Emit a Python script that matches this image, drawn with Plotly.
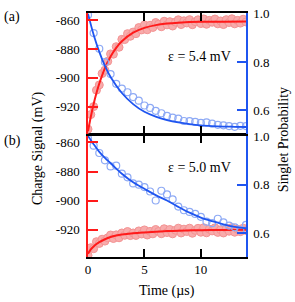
import plotly.graph_objects as go

# ---------------- data ----------------
# dense charge-signal samples (µs)
t_dense = [0, 0.25, 0.5, 0.75, 1.0, 1.25, 1.5, 1.75, 2.0, 2.25, 2.5, 2.75, 3.0, 3.25, 3.5, 3.75,
           4.0, 4.25, 4.5, 4.75, 5.0, 5.25, 5.5, 5.75, 6.0, 6.25, 6.5, 6.75, 7.0, 7.25, 7.5, 7.75,
           8.0, 8.25, 8.5, 8.75, 9.0, 9.25, 9.5, 9.75, 10.0, 10.25, 10.5, 10.75, 11.0, 11.25, 11.5,
           11.75, 12.0, 12.25, 12.5, 12.75, 13.0, 13.25, 13.5, 13.75, 14.0]

charge_a = [-935.5, -925.4, -919.9, -908.5, -904.9, -897.0, -894.7, -888.5, -883.4, -883.6,
            -878.4, -878.8, -873.3, -873.5, -869.4, -871.2, -868.3, -869.4, -865.2, -866.8,
            -863.4, -866.7, -863.6, -865.1, -861.7, -862.9, -864.6, -860.8, -863.3, -861.1,
            -864.1, -861.4, -859.8, -863.1, -860.5, -862.0, -859.7, -863.2, -861.1, -859.8,
            -862.4, -859.2, -862.9, -860.2, -861.5, -859.3, -862.6, -860.6, -863.1, -859.7,
            -861.7, -859.1, -862.6, -860.2, -862.1, -859.4, -861.3]

charge_b = [-937.5, -932.3, -933.0, -928.2, -929.4, -926.5, -927.8, -925.5, -923.6, -926.0,
            -923.5, -925.5, -922.2, -923.8, -921.2, -924.0, -922.2, -923.9, -920.8, -922.9,
            -920.1, -923.6, -921.1, -922.8, -919.8, -921.2, -922.7, -919.3, -921.9, -919.8,
            -922.8, -920.3, -918.9, -922.2, -919.6, -921.2, -918.9, -922.4, -920.4, -919.0,
            -921.7, -918.6, -922.1, -919.6, -920.8, -918.7, -921.8, -920.0, -922.2, -919.0,
            -921.0, -918.5, -921.7, -919.6, -921.3, -918.9, -920.5]

# charge-signal fits
t_fit_charge = [0, 0.25, 0.5, 0.75, 1.0, 1.5, 2.0, 2.5, 3.0, 4.0, 5.0, 6.0, 7.0, 8.0, 10.0, 12.0, 14.0]
fit_charge_a = [-937, -926.9, -918.1, -910.5, -903.9, -893.2, -885.2, -879.2, -874.7, -868.7,
                -865.4, -863.5, -862.4, -861.8, -861.2, -861.1, -861.0]
fit_charge_b = [-936.5, -933.5, -931.5, -929.8, -928.5, -926.5, -925.0, -924.0, -923.3, -922.4,
                -921.8, -921.3, -920.9, -920.6, -920.3, -920.1, -920.0]

# singlet probability samples (µs)
t_prob = [0, 0.5, 1.0, 1.5, 2.0, 2.5, 3.0, 3.5, 4.0, 4.5, 5.0, 5.5, 6.0, 6.5, 7.0, 7.5, 8.0, 8.5,
          9.0, 9.5, 10.0, 10.5, 11.0, 11.5, 12.0, 12.5, 13.0, 13.5, 14.0]
prob_a = [0.995, 0.92, 0.855, 0.80, 0.75, 0.71, 0.69, 0.675, 0.655, 0.64, 0.62, 0.61, 0.598, 0.588,
          0.577, 0.57, 0.566, 0.556, 0.555, 0.552, 0.548, 0.55, 0.545, 0.54, 0.538, 0.535, 0.532,
          0.536, 0.535]
prob_b = [0.99, 0.96, 0.93, 0.90, 0.875, 0.878, 0.845, 0.83, 0.805, 0.80, 0.79, 0.772, 0.735, 0.775,
          0.76, 0.74, 0.71, 0.695, 0.688, 0.68, 0.668, 0.648, 0.642, 0.66, 0.645, 0.632, 0.625,
          0.613, 0.635]

t_fit_prob = [0, 0.5, 1.0, 1.5, 2.0, 3.0, 4.0, 5.0, 6.0, 7.0, 8.0, 9.0, 10.0, 11.0, 12.0, 13.0, 14.0]
fit_prob_a = [1.0, 0.913, 0.842, 0.784, 0.738, 0.672, 0.626, 0.594, 0.574, 0.560, 0.550, 0.543,
              0.538, 0.535, 0.533, 0.532, 0.531]
fit_prob_b = [1.0, 0.966, 0.935, 0.91, 0.888, 0.845, 0.81, 0.783, 0.757, 0.735, 0.709, 0.685,
              0.665, 0.65, 0.637, 0.627, 0.621]

charge_ticks = [-920, -900, -880, -860]
charge_ticktext = ["-920", "-900", "-880", "-860"]
prob_ticks = [0.6, 0.8, 1.0]
prob_ticktext = ["0.6", "0.8", "1.0"]
time_ticks = [0, 5, 10]
panel_labels = ["(a)", "(b)"]
eps_labels = ["ε = 5.4 mV", "ε = 5.0 mV"]

# ---------------- styles ----------------
RED = "#ff1a1a"
RED_FILL = "#f8abab"
RED_EDGE = "#f39393"
BLUE = "#1f55f0"
BLUE_M = "#8eaaf5"
FONT = "Liberation Serif, Times New Roman, serif"
FS = 13
FS_T = 14
LW = 1.5

fig = go.Figure()

def add_panel(xa, ya_l, ya_r, charge, fc, prob, fp):
    fig.add_trace(go.Scatter(x=t_dense, y=charge, mode="markers", xaxis=xa, yaxis=ya_l,
                             marker=dict(symbol="circle", size=8, color=RED_FILL,
                                         line=dict(width=1, color=RED_EDGE)),
                             showlegend=False))
    fig.add_trace(go.Scatter(x=t_fit_charge, y=fc, mode="lines", xaxis=xa, yaxis=ya_l,
                             line=dict(color=RED, width=2, shape="spline"), showlegend=False))
    fig.add_trace(go.Scatter(x=t_prob, y=prob, mode="markers", xaxis=xa, yaxis=ya_r,
                             marker=dict(symbol="circle-open", size=7, color=BLUE_M,
                                         line=dict(width=1.2, color=BLUE_M)),
                             showlegend=False))
    fig.add_trace(go.Scatter(x=t_fit_prob, y=fp, mode="lines", xaxis=xa, yaxis=ya_r,
                             line=dict(color=BLUE, width=1.8, shape="spline"), showlegend=False))

add_panel("x2", "y", "y2", charge_a, fit_charge_a, prob_a, fit_prob_a)
add_panel("x", "y3", "y4", charge_b, fit_charge_b, prob_b, fit_prob_b)

# panel boundary at y = 131 px; nudge domains so both axis lines coincide there
dom_a = [(257 - 131 + LW / 2) / 251, 1]
dom_b = [0, (257 - 131 - LW / 2) / 251]
CH_RANGE = [-938.7, -855.1]
PR_RANGE = [0.503, 1.003]
tickfont = dict(family=FONT, size=FS, color="black")

xcommon = dict(range=[0, 14], showgrid=False, zeroline=False, showline=True, linecolor="black",
               linewidth=LW, ticks="inside", ticklen=8, tickwidth=1.5, tickcolor="black",
               mirror="ticks", tickvals=time_ticks, tickfont=tickfont)
ycharge = dict(range=CH_RANGE, showgrid=False, zeroline=False, showline=True, linecolor=RED,
               linewidth=LW, ticks="inside", ticklen=10, tickwidth=1.5, tickcolor=RED,
               tickvals=charge_ticks, ticktext=charge_ticktext, tickfont=tickfont, ticklabelstandoff=4)
yprob = dict(range=PR_RANGE, showgrid=False, zeroline=False, showline=True, linecolor=BLUE,
             linewidth=LW, ticks="inside", ticklen=9, tickwidth=1.5, tickcolor=BLUE,
             tickvals=prob_ticks, ticktext=prob_ticktext, tickfont=tickfont, side="right",
             ticklabelstandoff=3)

fig.update_layout(
    width=295, height=302,
    margin=dict(l=88, r=49, t=6, b=45),
    paper_bgcolor="white", plot_bgcolor="white",
    font=dict(family=FONT, size=FS, color="black"),
    xaxis=dict(xcommon, anchor="y3"),
    xaxis2=dict(xcommon, anchor="y", showticklabels=False),
    yaxis=dict(ycharge, domain=dom_a, anchor="x2"),
    yaxis2=dict(yprob, domain=dom_a, anchor="x2", overlaying="y"),
    yaxis3=dict(ycharge, domain=dom_b, anchor="x"),
    yaxis4=dict(yprob, domain=dom_b, anchor="x", overlaying="y3"),
)

def px_x(px):
    return (px - 88) / 158.0

def px_y(py):
    return (257 - py) / 251.0

ann = [
    dict(text=panel_labels[0], x=px_x(2), y=px_y(10), xanchor="left", yanchor="middle"),
    dict(text=panel_labels[1], x=px_x(2), y=px_y(138), xanchor="left", yanchor="middle"),
    dict(text=eps_labels[0], x=px_x(233), y=px_y(51), xanchor="right", yanchor="middle"),
    dict(text=eps_labels[1], x=px_x(233), y=px_y(165), xanchor="right", yanchor="middle"),
    dict(text="Charge Signal (mV)", x=px_x(38), y=px_y(145), textangle=-90,
         xanchor="center", yanchor="middle"),
    dict(text="Singlet Probability", x=px_x(283), y=px_y(137), textangle=-90,
         xanchor="center", yanchor="middle"),
    dict(text="Time (µs)", x=px_x(167), y=px_y(292), xanchor="center", yanchor="middle"),
]
for a in ann:
    fig.add_annotation(xref="paper", yref="paper", showarrow=False,
                       font=dict(family=FONT, size=FS_T, color="black"), **a)

fig.write_html("out.html", config={"displayModeBar": False},
               post_script="document.body.style.margin='0';document.body.style.overflow='hidden';")
